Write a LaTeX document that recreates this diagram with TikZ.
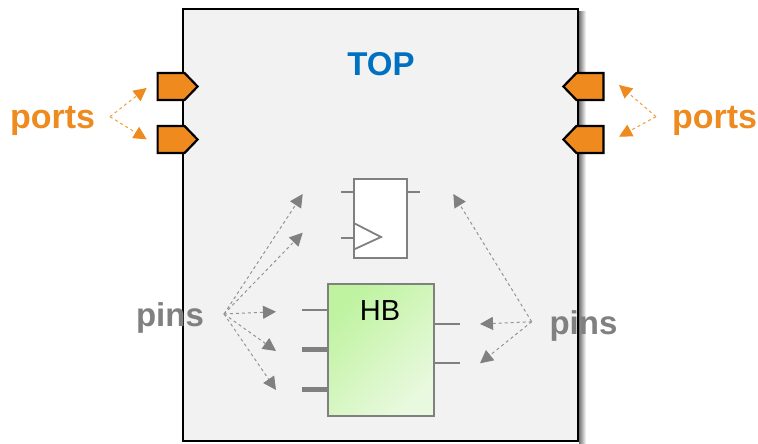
\documentclass[tikz,border=0pt]{standalone}
\usepackage{fontspec}
\setmainfont{Liberation Sans}
\usetikzlibrary{arrows.meta,shapes.symbols}
\definecolor{portorange}{HTML}{EE8A1E}
\definecolor{topblue}{HTML}{0070C0}
\definecolor{pingray}{HTML}{808080}
\definecolor{hbdark}{HTML}{BFF3A0}
\definecolor{hblight}{HTML}{E9F9DF}

\begin{document}
\begin{tikzpicture}[
    x=1pt, y=-1pt,
    topbox/.style={draw=black, line width=2.3pt, fill=black!5, minimum width=395pt,
        minimum height=432pt, inner sep=0pt},
    portr/.style={signal, signal to=east, draw=black, line width=2.2pt, fill=portorange,
        minimum width=40pt, minimum height=27pt, inner sep=0pt, signal pointer angle=92},
    portl/.style={portr, signal to=west},
    ffbox/.style={draw=pingray, line width=2pt, fill=white, minimum width=53pt,
        minimum height=79pt, inner sep=0pt},
    hbbox/.style={draw=pingray, line width=2pt, minimum width=106pt, minimum height=132pt,
        inner sep=0pt, left color=hbdark, right color=hblight, shading angle=45},
    wire/.style={draw=pingray, line width=1.8pt},
    bus/.style={draw=pingray, line width=5.5pt},
    portlabel/.style={text=portorange, font=\fontsize{34}{34}\selectfont\bfseries, inner sep=0pt},
    pinlabel/.style={text=pingray, font=\fontsize{33}{33}\selectfont\bfseries, inner sep=0pt},
    portarrow/.style={draw=portorange!80, line width=1.1pt, dashed,
        -{Triangle[length=13pt,width=13pt,color=portorange]}},
    pinarrow/.style={draw=pingray!85, line width=1pt, dashed,
        -{Triangle[length=13pt,width=13pt,color=pingray]}}
]
    \useasboundingbox (0,0) rectangle (758,444);

    % soft edge right of the top box
    \shade[left color=black!55, right color=white] (579,12) rectangle (586,444);

    \node[topbox] (top) at (380.5,225) {};
    \node[text=topblue, font=\fontsize{33}{33}\selectfont\bfseries, inner sep=0pt] (toplabel) at (381,64) {TOP};

    % ports
    \node[portr, anchor=west] (pa) at (156.5,86.5) {};
    \node[portr, anchor=west] (pb) at (156.5,139.5) {};
    \node[portl, anchor=east] (pc) at (604.5,86.5) {};
    \node[portl, anchor=east] (pd) at (604.5,139.5) {};
    \node[portlabel] (portsl) at (52.5,121) {ports};
    \node[portlabel] (portsr) at (714.5,121) {ports};
    \coordinate (hubla) at (110,116.7);
    \coordinate (hubra) at (656,116.7);
    \coordinate (pae) at (146.7,88);
    \coordinate (pbe) at (146.7,139.3);
    \coordinate (pce) at (619,85);
    \coordinate (pde) at (619,136.7);
    \draw[portarrow] (hubla) -- (pae);
    \draw[portarrow] (hubla) -- (pbe);
    \draw[portarrow] (hubra) -- (pce);
    \draw[portarrow] (hubra) -- (pde);

    % flip flop
    \node[ffbox] (ff) at (380.8,218.3) {};
    \coordinate (ffa) at (341,192.3);
    \coordinate (ffb) at (341,237.7);
    \coordinate (ffc) at (420,192.3);
    \coordinate (ffai) at (354.3,192.3);
    \coordinate (ffbi) at (354.3,237.7);
    \coordinate (ffci) at (407.3,192.3);
    \draw[wire] (ffa) -- (ffai);
    \draw[wire] (ffb) -- (ffbi);
    \draw[wire] (ffci) -- (ffc);
    \draw[wire] (354.3,223.3) -- (381,237) -- (354.3,249.3);

    % hard block
    \node[hbbox] (hb) at (380.8,350.2) {};
    \node[font=\fontsize{29}{29}\selectfont, inner sep=0pt] (hblabel) at (380,311) {HB};
    \coordinate (hba) at (301.7,310.3);
    \coordinate (hbb) at (301.7,349.7);
    \coordinate (hbc) at (301.7,389.3);
    \coordinate (hbd) at (460,324.3);
    \coordinate (hbe) at (460,363);
    \coordinate (hbai) at (328,310.3);
    \coordinate (hbbi) at (328,349.7);
    \coordinate (hbci) at (328,389.3);
    \coordinate (hbdi) at (433.7,324.3);
    \coordinate (hbei) at (433.7,363);
    \draw[wire] (hba) -- (hbai);
    \draw[bus] (hbb) -- (hbbi);
    \draw[bus] (hbc) -- (hbci);
    \draw[wire] (hbdi) -- (hbd);
    \draw[wire] (hbei) -- (hbe);

    % pins
    \node[pinlabel] (pinsl) at (170,318) {pins};
    \node[pinlabel] (pinsr) at (583.5,326) {pins};
    \coordinate (hublp) at (224,314);
    \coordinate (hubrp) at (531.7,321.7);
    \coordinate (pla) at (302.7,194);
    \coordinate (plb) at (302.7,232.7);
    \coordinate (plc) at (276,311.7);
    \coordinate (pld) at (276,351);
    \coordinate (ple) at (276,390);
    \coordinate (pra) at (453.3,194);
    \coordinate (prb) at (480,324);
    \coordinate (prc) at (480,363.3);
    \draw[pinarrow] (hublp) -- (pla);
    \draw[pinarrow] (hublp) -- (plb);
    \draw[pinarrow] (hublp) -- (plc);
    \draw[pinarrow] (hublp) -- (pld);
    \draw[pinarrow] (hublp) -- (ple);
    \draw[pinarrow] (hubrp) -- (pra);
    \draw[pinarrow] (hubrp) -- (prb);
    \draw[pinarrow] (hubrp) -- (prc);
\end{tikzpicture}
\end{document}
